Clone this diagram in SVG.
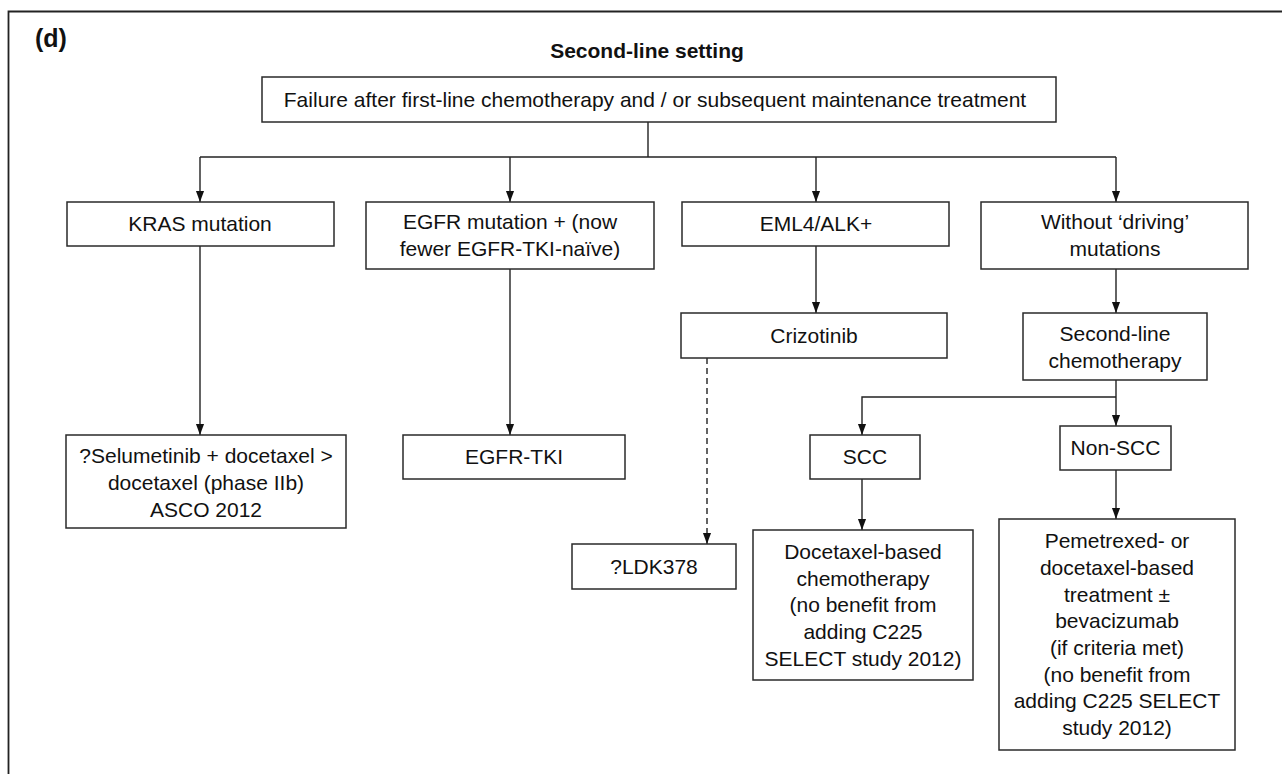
<svg xmlns="http://www.w3.org/2000/svg" width="1282" height="774" viewBox="0 0 1282 774">
<style>
.box{fill:#fff;stroke:#2a2a2a;stroke-width:1.5}
.t{font-family:"Liberation Sans",Arial,sans-serif;font-size:21px;fill:#111;text-anchor:middle}
.b{font-family:"Liberation Sans",Arial,sans-serif;font-weight:bold;fill:#111}
.ln{fill:none;stroke:#222;stroke-width:1.4}
.dash{stroke-dasharray:6,4}
</style>
<defs>
<marker id="ah" markerWidth="11" markerHeight="15" refX="15" refY="5.5" orient="auto" markerUnits="userSpaceOnUse" viewBox="0 0 15 11">
<path d="M0,0 L15,5.5 L0,11 z" fill="#111"/>
</marker>
</defs>
<rect width="1282" height="774" fill="#fff"/>
<path d="M8.5,774 V11.5 H1282" fill="none" stroke="#222" stroke-width="1.8"/>
<text class="b" x="35" y="47" font-size="25">(d)</text>
<text class="b" x="647" y="58" font-size="21" text-anchor="middle">Second-line setting</text>

<g id="connectors">
<path class="ln" d="M648,122 V157"/>
<path class="ln" d="M200,157 H1116"/>
<path class="ln" d="M200,157 V202" marker-end="url(#ah)"/>
<path class="ln" d="M510,157 V202" marker-end="url(#ah)"/>
<path class="ln" d="M816,157 V202" marker-end="url(#ah)"/>
<path class="ln" d="M1116,157 V202" marker-end="url(#ah)"/>
<path class="ln" d="M816,246 V313" marker-end="url(#ah)"/>
<path class="ln" d="M1116,269 V313" marker-end="url(#ah)"/>
<path class="ln" d="M1116,380 V426" marker-end="url(#ah)"/>
<path class="ln" d="M1116,397 H862 V435" marker-end="url(#ah)"/>
<path class="ln" d="M1116,470 V519" marker-end="url(#ah)"/>
<path class="ln" d="M862,479 V530" marker-end="url(#ah)"/>
<path class="ln" d="M200,246 V435" marker-end="url(#ah)"/>
<path class="ln" d="M510,269 V435" marker-end="url(#ah)"/>
<path class="ln dash" d="M707,358 V544" marker-end="url(#ah)"/>
</g>

<g id="n-failure">
<rect class="box" x="262" y="77" width="794" height="45"/>
<text class="t" x="655" y="107">Failure after first-line chemotherapy and / or subsequent maintenance treatment</text>
</g>
<g id="n-kras">
<rect class="box" x="67" y="202" width="267" height="44"/>
<text class="t" x="200" y="231">KRAS mutation</text>
</g>
<g id="n-egfr">
<rect class="box" x="366" y="202" width="288" height="67"/>
<text class="t" x="510" y="229">EGFR mutation + (now</text>
<text class="t" x="510" y="256">fewer EGFR-TKI-naïve)</text>
</g>
<g id="n-eml4">
<rect class="box" x="682" y="202" width="267" height="44"/>
<text class="t" x="816" y="231">EML4/ALK+</text>
</g>
<g id="n-without">
<rect class="box" x="981" y="202" width="267" height="67"/>
<text class="t" x="1115" y="229">Without ‘driving’</text>
<text class="t" x="1115" y="256">mutations</text>
</g>
<g id="n-crizotinib">
<rect class="box" x="681" y="313" width="266" height="45"/>
<text class="t" x="814" y="343">Crizotinib</text>
</g>
<g id="n-secondline">
<rect class="box" x="1023" y="313" width="184" height="67"/>
<text class="t" x="1115" y="341">Second-line</text>
<text class="t" x="1115" y="368">chemotherapy</text>
</g>
<g id="n-scc">
<rect class="box" x="810" y="435" width="110" height="44"/>
<text class="t" x="865" y="464">SCC</text>
</g>
<g id="n-nonscc">
<rect class="box" x="1060" y="426" width="111" height="44"/>
<text class="t" x="1115.5" y="455">Non-SCC</text>
</g>
<g id="n-selumetinib">
<rect class="box" x="66" y="435" width="280" height="93"/>
<text class="t" x="206" y="463">?Selumetinib + docetaxel &gt;</text>
<text class="t" x="206" y="490">docetaxel (phase IIb)</text>
<text class="t" x="206" y="517">ASCO 2012</text>
</g>
<g id="n-egfrtki">
<rect class="box" x="403" y="435" width="222" height="44"/>
<text class="t" x="514" y="464">EGFR-TKI</text>
</g>
<g id="n-ldk">
<rect class="box" x="572" y="544" width="164" height="45"/>
<text class="t" x="654" y="574">?LDK378</text>
</g>
<g id="n-docetaxel">
<rect class="box" x="753" y="530" width="220" height="150"/>
<text class="t" x="863" y="559">Docetaxel-based</text>
<text class="t" x="863" y="586">chemotherapy</text>
<text class="t" x="863" y="612">(no benefit from</text>
<text class="t" x="863" y="639">adding C225</text>
<text class="t" x="863" y="666">SELECT study 2012)</text>
</g>
<g id="n-pemetrexed">
<rect class="box" x="999" y="519" width="236" height="231"/>
<text class="t" x="1117" y="548">Pemetrexed- or</text>
<text class="t" x="1117" y="575">docetaxel-based</text>
<text class="t" x="1117" y="602">treatment ±</text>
<text class="t" x="1117" y="628">bevacizumab</text>
<text class="t" x="1117" y="655">(if criteria met)</text>
<text class="t" x="1117" y="682">(no benefit from</text>
<text class="t" x="1117" y="708">adding C225 SELECT</text>
<text class="t" x="1117" y="735">study 2012)</text>
</g>
</svg>
